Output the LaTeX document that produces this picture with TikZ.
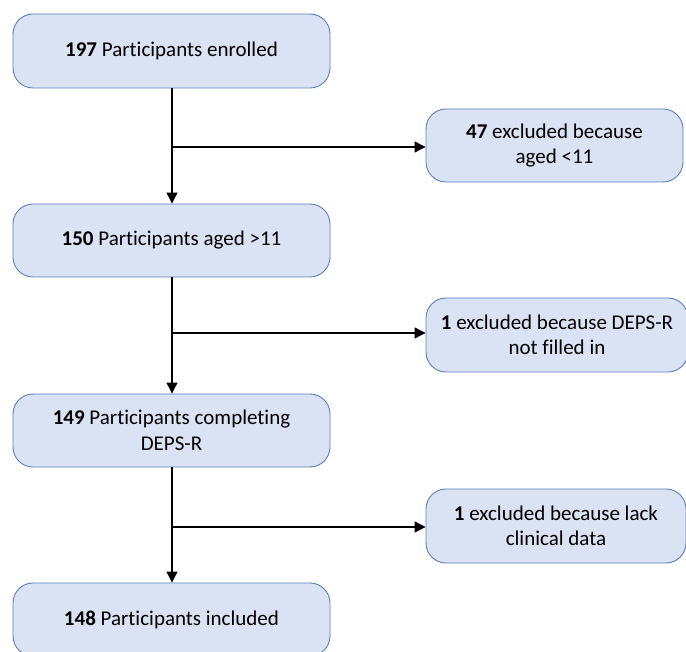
\documentclass[tikz,border=0pt]{standalone}
\usepackage{fontspec}
\setmainfont{Carlito}[Ligatures={NoCommon}]
\usetikzlibrary{arrows.meta}
\definecolor{boxfill}{HTML}{DAE3F3}
\definecolor{boxline}{HTML}{5B7DB8}
\begin{document}
\begin{tikzpicture}[x=1pt,y=-1pt,
  flowbox/.style={draw=boxline,fill=boxfill,line width=0.9pt,rounded corners=20pt,
    align=center,font=\fontsize{21}{25.5}\selectfont,inner sep=0pt},
  conn/.style={line width=1.1pt,black},
  arr/.style={conn,-{Triangle[length=11pt,width=11pt]}}]
\useasboundingbox (0,0) rectangle (686,652);
\clip (0,0) rectangle (686,652);
\node[flowbox,minimum width=317pt,minimum height=74pt] (b1) at (171.5,51) {\textbf{197} Participants enrolled};
\node[flowbox,minimum width=317pt,minimum height=73pt] (b2) at (171.5,240.5) {\textbf{150} Participants aged >11};
\node[flowbox,minimum width=317pt,minimum height=73pt] (b3) at (171.5,430.5) {\textbf{149} Participants completing\\DEPS-R};
\node[flowbox,minimum width=317pt,minimum height=73pt] (b4) at (171.5,619.5) {\textbf{148} Participants included};
\node[flowbox,minimum width=257pt,minimum height=73pt] (r1) at (554.5,145.5) {\textbf{47} excluded because\\aged <11};
\node[flowbox,minimum width=262pt,minimum height=74pt] (r2) at (557,335) {\textbf{1} excluded because DEPS-R\\not filled in};
\node[flowbox,minimum width=260pt,minimum height=74pt] (r3) at (556,526) {\textbf{1} excluded because lack\\clinical data};
\coordinate (j1) at (172,147);
\coordinate (j2) at (172,333);
\coordinate (j3) at (172,527);
\draw[arr] (b1.south -| j1) -- (b2.north -| j1);
\draw[arr] (b2.south -| j2) -- (b3.north -| j2);
\draw[arr] (b3.south -| j3) -- (b4.north -| j3);
\draw[arr] (j1) -- (r1.west |- j1);
\draw[arr] (j2) -- (r2.west |- j2);
\draw[arr] (j3) -- (r3.west |- j3);
\end{tikzpicture}
\end{document}
